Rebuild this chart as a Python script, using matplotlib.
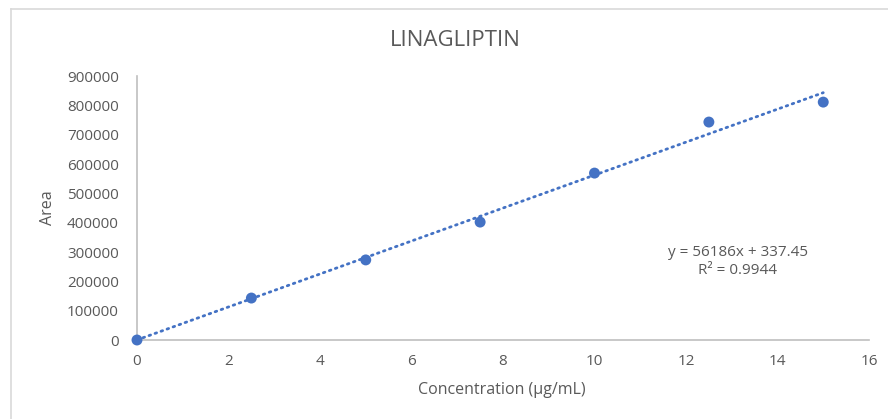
import numpy as np
import matplotlib.pyplot as plt
from matplotlib.lines import Line2D

# calibration data
conc = [0, 2.5, 5, 7.5, 10, 12.5, 15]
area = [0, 143000, 273000, 402000, 569000, 743000, 811000]
slope, intercept, r2 = 56186, 337.45, 0.9944
xticks = [0, 2, 4, 6, 8, 10, 12, 14, 16]
yticks = [0, 100000, 200000, 300000, 400000, 500000, 600000, 700000, 800000, 900000]

plt.rcParams['font.family'] = ['Open Sans', 'DejaVu Sans']
grey = '#595959'
blue = '#4472C4'

W, H = 888, 419
fig = plt.figure(figsize=(W/100, H/100), dpi=100)
ax = fig.add_axes([137/W, 1-340/H, (869-137)/W, (340-76)/H])

# linear trendline from the fitted coefficients
xs = np.array([0, 15])
ax.plot(xs, slope*xs + intercept, color=blue, lw=2, linestyle=(0, (0.6, 1.7)),
        dash_capstyle='round', zorder=2)
ax.scatter(conc, area, s=62, color=blue, zorder=3, edgecolors='none', clip_on=False)

ax.set_xlim(0, 16)
ax.set_ylim(0, 900000)
ax.set_xticks(xticks)
ax.set_yticks(yticks)
ax.tick_params(length=0, labelsize=11, labelcolor=grey, pad=10)
ax.tick_params(axis='y', pad=13)
for s in ['top', 'right']:
    ax.spines[s].set_visible(False)
for s in ['left', 'bottom']:
    ax.spines[s].set_color('#BFBFBF')
    ax.spines[s].set_linewidth(1.2)

fig.text(455/W, 1-40/H, 'LINAGLIPTIN', ha='center', va='center', fontsize=16, color=grey)
fig.text(502/W, 1-390/H, 'Concentration (µg/mL)', ha='center', va='center', fontsize=11.5, color=grey)
fig.text(48/W, 1-208/H, 'Area', ha='center', va='center', rotation=90, fontsize=11.5, color=grey)
fig.text(738/W, 1-252/H, 'y = %dx + %.2f' % (slope, intercept),
         ha='center', va='center', fontsize=11, color=grey)
fig.text(738/W, 1-270/H, 'R² = %.4f' % r2, ha='center', va='center', fontsize=11, color=grey)

# chart area border (only left/top visible in the crop)
fig.add_artist(Line2D([11/W, 11/W], [0, 1-9/H], color='#D9D9D9', lw=1.2))
fig.add_artist(Line2D([11/W, 1], [1-9/H, 1-9/H], color='#D9D9D9', lw=1.2))

fig.savefig('out.png', dpi=100)
